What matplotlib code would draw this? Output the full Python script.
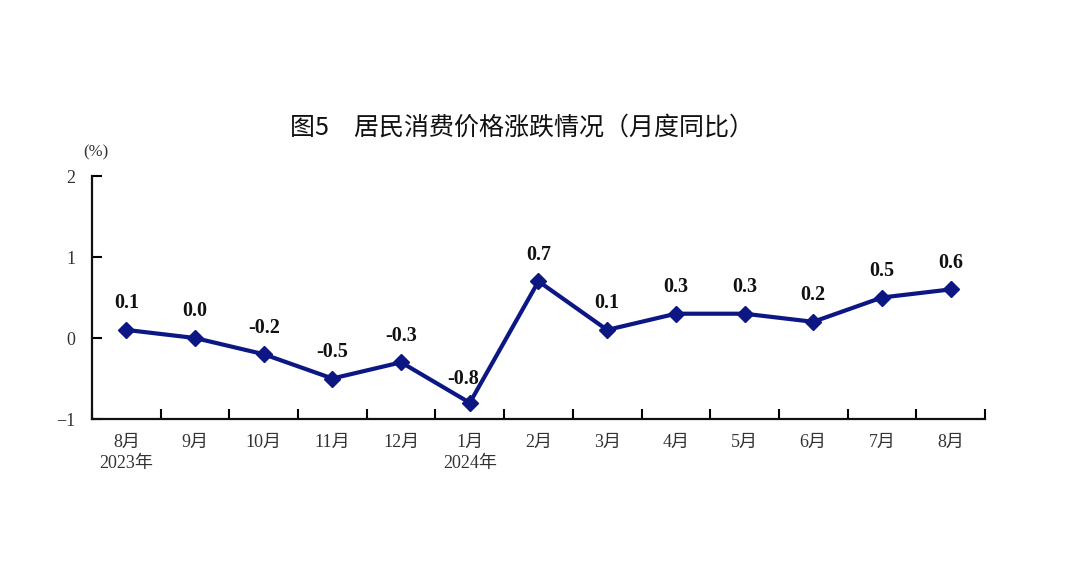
import numpy as np
import matplotlib.pyplot as plt

months = ['8月\n2023年', '9月', '10月', '11月', '12月', '1月\n2024年', '2月',
          '3月', '4月', '5月', '6月', '7月', '8月']
cpi_yoy = [0.1, 0.0, -0.2, -0.5, -0.3, -0.8, 0.7, 0.1, 0.3, 0.3, 0.2, 0.5, 0.6]
y_ticks = [-1, 0, 1, 2]

serif = ['Liberation Serif', 'Noto Sans CJK SC']
line_color = '#0c1784'

fig = plt.figure(figsize=(10.8, 5.66), dpi=100)
ax = fig.add_axes([0.0852, 0.2597, 0.8268, 0.4293])

x = np.arange(len(cpi_yoy))
ax.plot(x, cpi_yoy, color=line_color, lw=3, marker='D', ms=8, zorder=3)

# value labels above each point; -0.8 sits up-left of its marker
for i, v in enumerate(cpi_yoy):
    dx, dy = (-5, 10) if v == -0.8 else (0, 12)
    ax.annotate(f'{v:.1f}', (i, v), xytext=(dx, dy), textcoords='offset points',
                ha='center', va='bottom', fontsize=14.5, fontweight='bold',
                family='Liberation Serif', color='#111111')

ax.set_xlim(-0.5, len(cpi_yoy) - 0.5)
ax.set_ylim(-1, 2)
ax.set_yticks(y_ticks)
ax.set_yticklabels(['\u22121', '0', '1', '2'], family=serif, fontsize=13, color='#333333')

# boundary ticks without labels, month labels at centres
ax.set_xticks(np.arange(-0.5, len(cpi_yoy)))
ax.set_xticklabels([])
ax.set_xticks(x, minor=True)
ax.set_xticklabels(months, minor=True, family=serif, fontsize=13,
                   color='#333333', linespacing=1.25)
ax.tick_params(axis='x', which='major', direction='in', length=7, width=1.5)
ax.tick_params(axis='x', which='minor', length=0, pad=11)
ax.tick_params(axis='y', direction='in', length=7, width=1.5, pad=12)

for s in ['top', 'right']:
    ax.spines[s].set_visible(False)
for s in ['left', 'bottom']:
    ax.spines[s].set_linewidth(1.6)
    ax.spines[s].set_color('#111111')

fig.text(0.483, 0.775, '图5\u3000居民消费价格涨跌情况（月度同比）', ha='center', va='center',
         fontsize=18, family=['Noto Sans CJK SC', 'DejaVu Sans'], color='#111111')
fig.text(0.089, 0.731, '(%)', ha='center', va='center', fontsize=12,
         family=serif, color='#333333')

fig.savefig('out.png', dpi=100)
